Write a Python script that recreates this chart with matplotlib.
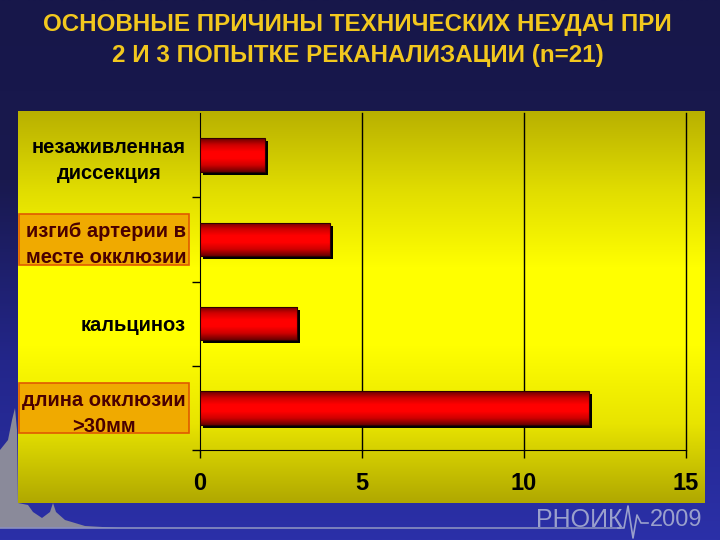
import numpy as np
import matplotlib
matplotlib.use("Agg")
import matplotlib.pyplot as plt
import matplotlib.transforms as mtransforms
from matplotlib.colors import LinearSegmentedColormap
from matplotlib.patches import Rectangle

# data
categories = ["незаживленная\nдиссекция", "изгиб артерии в\nместе окклюзии",
              "кальциноз", "длина окклюзии\n>30мм"]
counts = [2, 4, 3, 12]
boxed = [False, True, False, True]
xticks = [0, 5, 10, 15]
title = "ОСНОВНЫЕ ПРИЧИНЫ ТЕХНИЧЕСКИХ НЕУДАЧ ПРИ\n2 И 3 ПОПЫТКЕ РЕКАНАЛИЗАЦИИ (n=21)"

plt.rcParams['font.family'] = ['Liberation Sans', 'DejaVu Sans']

W, H = 720, 540
fig = plt.figure(figsize=(7.2, 5.4), dpi=100)

# slide background (dark navy -> blue), pixel coords from top-left
bg = fig.add_axes([0, 0, 1, 1], zorder=-10)
bg_cmap = LinearSegmentedColormap.from_list("bg", ["#2b30a8", "#23268a", "#19194e", "#17174a"])
bg.imshow(np.linspace(0, 1, 256).reshape(-1, 1), aspect='auto', cmap=bg_cmap,
          extent=[0, W, H, 0], origin='lower')
bg.set_xlim(0, W)
bg.set_ylim(H, 0)
bg.axis('off')
# decorative grey silhouette + line + logo
sil_x = [0, 0, 8, 12, 15, 17, 18, 28, 33, 42, 50, 53, 56, 65, 85, 120]
sil_y = [528, 450, 440, 420, 408, 430, 503, 505, 512, 518, 512, 503, 512, 520, 526, 528]
bg.fill(sil_x, sil_y, color="#8a8a9a", lw=0)
bg.plot([0, 620], [528, 528], color="#8a90c0", lw=1.2)
logo_c = "#9aa0cc"
bg.text(622, 527, "РНОИК", color=logo_c, fontsize=18, ha='right', va='baseline')
bg.plot([618, 624, 628, 633, 637, 641, 648],
        [528, 528, 506, 538, 515, 523, 523], color=logo_c, lw=1.2)
bg.text(650, 526, "2009", color=logo_c, fontsize=17, ha='left', va='baseline')

# yellow panel
panel = fig.add_axes([18 / W, 1 - 503 / H, 687 / W, 392 / H], zorder=-5)
panel_cmap = LinearSegmentedColormap.from_list("panel", ["#b0a800", "#e8e400", "#ffff00",
                                                         "#ffff00", "#e0dc00", "#b8b000"])
panel.imshow(np.linspace(0, 1, 256).reshape(-1, 1), aspect='auto', cmap=panel_cmap,
             extent=[0, 1, 0, 1], origin='lower')
panel.axis('off')

fig.text(0.497, 0.975, title, color="#f2c81e", fontsize=17.4, fontweight='bold',
         ha='center', va='top', linespacing=1.42)

ax = fig.add_axes([200 / W, 90 / H, 486 / W, 337 / H])
ax.patch.set_alpha(0)
y = np.arange(len(categories))

# bar shadows
shadow = mtransforms.offset_copy(ax.transData, fig=fig, x=3, y=-3, units='dots')
ax.barh(y, counts, height=0.4, color='black', transform=shadow, zorder=2)
bars = ax.barh(y, counts, height=0.4, color='red', zorder=3)

bar_cmap = LinearSegmentedColormap.from_list("bar", ["#6a0000", "#d00000", "#ff0000",
                                                     "#ff0000", "#d00000", "#6a0000"])
grad = np.linspace(0, 1, 64).reshape(-1, 1)
for b in bars:
    x0, y0, w, h = b.get_x(), b.get_y(), b.get_width(), b.get_height()
    im = ax.imshow(grad, aspect='auto', cmap=bar_cmap, extent=[x0, x0 + w, y0, y0 + h],
                   zorder=4, interpolation='bilinear')
    im.set_clip_path(b)
    b.set_facecolor('none')
    b.set_edgecolor('#300000')
    b.set_linewidth(0.8)
    b.set_zorder(5)

ax.set_xlim(0, 15)
ax.set_ylim(len(categories) - 0.5, -0.5)
ax.set_xticks(xticks)
ax.set_xticklabels([str(t) for t in xticks], fontsize=17, fontweight='bold')
ax.tick_params(axis='x', length=6, width=1, pad=10, colors='black')
for v in xticks[1:]:
    ax.axvline(v, color='black', lw=1, zorder=1, clip_on=False)

ax.set_yticks(y)
ax.set_yticklabels(categories, fontsize=14.5, fontweight='bold')
ax.set_yticks(np.arange(len(categories)) + 0.5, minor=True)
ax.tick_params(axis='y', which='major', length=0, pad=10)
ax.tick_params(axis='y', which='minor', length=6, width=1)
for lab in ax.get_yticklabels():
    lab.set_multialignment('center')
    lab.set_linespacing(1.45)
for spine in ['top', 'right']:
    ax.spines[spine].set_visible(False)

# orange boxes behind two of the labels
box_tr = mtransforms.blended_transform_factory(fig.transFigure, ax.transData)
for i, (lab, bx) in enumerate(zip(ax.get_yticklabels(), boxed)):
    if bx:
        lab.set_color('#4a0000')
        ax.add_patch(Rectangle((19 / W, i - 0.3), 170 / W, 0.6, transform=box_tr,
                               facecolor='#f0aa00', edgecolor='#e05a00', lw=1.2,
                               clip_on=False, zorder=0))

fig.savefig("out.png", dpi=100)
